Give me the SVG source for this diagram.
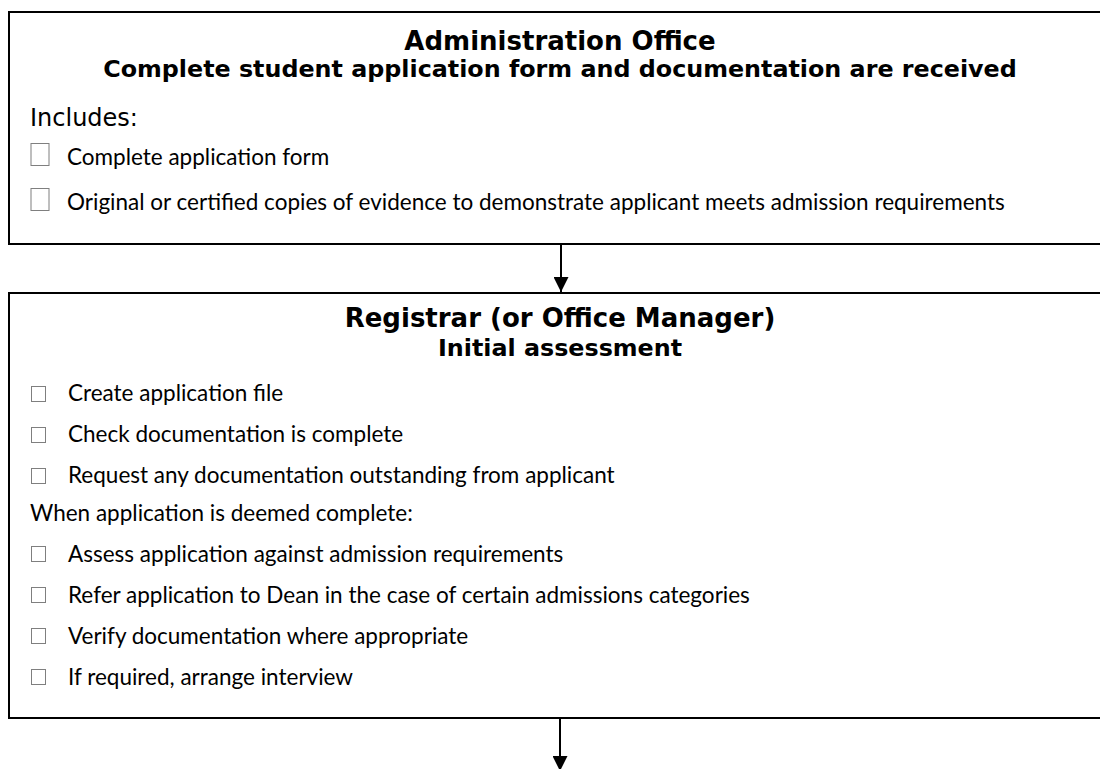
<svg xmlns="http://www.w3.org/2000/svg" width="1100" height="769" viewBox="0 0 1100 769">
<style>
.box{fill:#fff;stroke:#000;stroke-width:2}
.cb{fill:none;stroke:#7f7f7f;stroke-width:1}
.t1{font-family:"DejaVu Sans",Verdana,sans-serif;font-weight:bold;font-size:26px;fill:#000;text-anchor:middle}
.t2{font-family:"DejaVu Sans",Verdana,sans-serif;font-weight:bold;font-size:23.8px;fill:#000;text-anchor:middle}
.v{font-family:"DejaVu Sans",Verdana,sans-serif;font-size:24px;fill:#000}
.c{font-family:Lato,"Open Sans",sans-serif;font-size:22.5px;fill:#000}
.conn{stroke:#000;stroke-width:2;fill:none}
</style>
<defs>
<marker id="ah" viewBox="0 0 10 10" refX="10" refY="5" markerWidth="15" markerHeight="15" markerUnits="userSpaceOnUse" orient="auto">
<path d="M0,0 L10,5 L0,10 z" fill="#000"/>
</marker>
</defs>
<rect width="1100" height="769" fill="#fff"/>
<g id="connectors">
<line class="conn" x1="561" y1="244" x2="561" y2="292" marker-end="url(#ah)"/>
<line class="conn" x1="560" y1="718" x2="560" y2="771" marker-end="url(#ah)"/>
</g>
<g id="admin-office">
<rect class="box" x="9" y="12" width="1103" height="232"/>
<text class="t1" x="560" y="50">Administration Office</text>
<text class="t2" x="560" y="77">Complete student application form and documentation are received</text>
<text class="v" x="30" y="126">Includes:</text>
<rect class="cb" x="31" y="143.5" width="18" height="22"/>
<text class="c" x="67" y="165">Complete application form</text>
<rect class="cb" x="31" y="188.5" width="18" height="22"/>
<text class="c" x="67" y="210">Original or certified copies of evidence to demonstrate applicant meets admission requirements</text>
</g>
<g id="registrar">
<rect class="box" x="9" y="293" width="1103" height="425"/>
<text class="t1" x="560" y="327">Registrar (or Office Manager)</text>
<text class="t2" x="560" y="356">Initial assessment</text>
<rect class="cb" x="31.5" y="386.5" width="14" height="15"/>
<text class="c" x="68" y="401">Create application file</text>
<rect class="cb" x="31.5" y="427.5" width="14" height="15"/>
<text class="c" x="68" y="442">Check documentation is complete</text>
<rect class="cb" x="31.5" y="468.5" width="14" height="15"/>
<text class="c" x="68" y="483">Request any documentation outstanding from applicant</text>
<text class="c" x="30" y="521">When application is deemed complete:</text>
<rect class="cb" x="31.5" y="546.5" width="14" height="15"/>
<text class="c" x="68" y="562">Assess application against admission requirements</text>
<rect class="cb" x="31.5" y="587.5" width="14" height="15"/>
<text class="c" x="68" y="603">Refer application to Dean in the case of certain admissions categories</text>
<rect class="cb" x="31.5" y="628.5" width="14" height="15"/>
<text class="c" x="68" y="644">Verify documentation where appropriate</text>
<rect class="cb" x="31.5" y="669.5" width="14" height="15"/>
<text class="c" x="68" y="685">If required, arrange interview</text>
</g>
</svg>
